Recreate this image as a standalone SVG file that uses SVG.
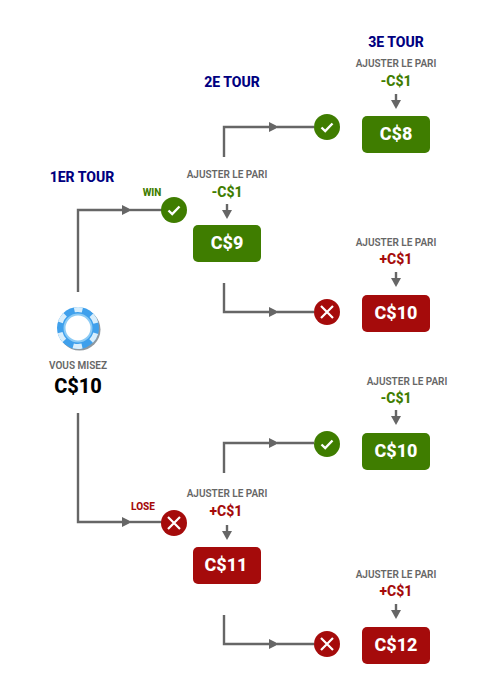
<svg xmlns="http://www.w3.org/2000/svg" width="501" height="700" viewBox="0 0 501 700">
<defs>
<g id="chk"><circle r="13" fill="#3f7d00"/><path d="M-5.500 0.500L-1.800 4L5.500 -3.500" fill="none" stroke="#fff" stroke-width="2.400"/></g>
<g id="crs"><circle r="13" fill="#a50b0b"/><path d="M-6 -6L6 6M6 -6L-6 6" fill="none" stroke="#fff" stroke-width="2.200"/></g>
</defs>
<style>
text{font-family:Roboto,"Liberation Sans",sans-serif;text-anchor:middle}
.t{font-size:14px;font-weight:800;fill:#000080}
.a{font-size:10px;font-weight:600;fill:#666}
.d{font-size:14px;font-weight:800}
.g{fill:#3f7d00}.r{fill:#a50b0b}
.v{font-size:18px;font-weight:800;fill:#fff}
.l{font-size:10px;font-weight:800}
.c{fill:none;stroke:#666;stroke-width:2.400}
.ar{fill:#666}
</style>
<rect width="501" height="700" fill="#fff"/>
<g id="connectors">
<path class="c" d="M78 292V210H122"/><path class="ar" d="M122 205L132 210L122 215Z"/><path class="c" d="M130 210H162"/>
<path class="c" d="M78 413V522H122"/><path class="ar" d="M122 517L132 522L122 527Z"/><path class="c" d="M130 522H162"/>
<path class="c" d="M224 157V127H269"/><path class="ar" d="M269 122L279 127L269 132Z"/><path class="c" d="M277 127H314"/>
<path class="c" d="M224 283V312H269"/><path class="ar" d="M269 307L279 312L269 317Z"/><path class="c" d="M277 312H314"/>
<path class="c" d="M224 473V443H269"/><path class="ar" d="M269 438L279 443L269 448Z"/><path class="c" d="M277 443H314"/>
<path class="c" d="M224 615V644H269"/><path class="ar" d="M269 639L279 644L269 649Z"/><path class="c" d="M277 644H314"/>
<path class="c" d="M227 204V211"/><path class="ar" d="M222 210H232L227 219Z"/>
<path class="c" d="M227 525V532"/><path class="ar" d="M222 531H232L227 540Z"/>
<path class="c" d="M396 94V101"/><path class="ar" d="M391 100H401L396 109Z"/>
<path class="c" d="M396 272V279"/><path class="ar" d="M391 278H401L396 287Z"/>
<path class="c" d="M396 410V417"/><path class="ar" d="M391 416H401L396 425Z"/>
<path class="c" d="M396 604V611"/><path class="ar" d="M391 610H401L396 619Z"/>
</g>
<text class="t" x="82" y="182">1ER TOUR</text>
<text class="t" x="232" y="87">2E TOUR</text>
<text class="t" x="396" y="47">3E TOUR</text>
<g id="start">
<circle cx="79.500" cy="329.500" r="21" fill="#8f989f"/>
<circle cx="78" cy="328" r="21" fill="#3fa0ec"/>
<circle cx="78" cy="328" r="18.500" fill="none" stroke="#d8eefc" stroke-width="5" stroke-dasharray="9 10.370" stroke-dashoffset="4.500" transform="rotate(-90 78 328)"/>
<circle cx="78" cy="328" r="13.500" fill="#fff" stroke="#8ccbf5" stroke-width="2"/>
<text class="a" x="78" y="369">VOUS MISEZ</text>
<text x="78" y="393" font-size="20" font-weight="800" fill="#000">C$10</text>
</g>
<g id="win"><text class="l g" x="152" y="196">WIN</text><use href="#chk" x="174" y="210"/></g>
<g id="lose"><text class="l r" x="143" y="510">LOSE</text><use href="#crs" x="174" y="523"/></g>
<g id="n9"><text class="a" x="227" y="178">AJUSTER LE PARI</text><text class="d g" x="227" y="197">-C$1</text><rect x="193" y="225" width="68" height="37" rx="5" class="g"/><text class="v" x="227" y="249">C$9</text></g>
<g id="n11"><text class="a" x="227" y="497">AJUSTER LE PARI</text><text class="d r" x="226" y="516">+C$1</text><rect x="193" y="547" width="68" height="37" rx="5" class="r"/><text class="v" x="226" y="571">C$11</text></g>
<g id="c1"><use href="#chk" x="327" y="127"/></g>
<g id="c2"><use href="#crs" x="327" y="312"/></g>
<g id="c3"><use href="#chk" x="327" y="444"/></g>
<g id="c4"><use href="#crs" x="327" y="644"/></g>
<g id="n8"><text class="a" x="396" y="67">AJUSTER LE PARI</text><text class="d g" x="396" y="86">-C$1</text><rect x="362" y="116" width="68" height="37" rx="5" class="g"/><text class="v" x="396" y="140">C$8</text></g>
<g id="n10a"><text class="a" x="396" y="246">AJUSTER LE PARI</text><text class="d r" x="396" y="264">+C$1</text><rect x="362" y="295" width="68" height="37" rx="5" class="r"/><text class="v" x="396" y="319">C$10</text></g>
<g id="n10b"><text class="a" x="407" y="385">AJUSTER LE PARI</text><text class="d g" x="396" y="403">-C$1</text><rect x="362" y="433" width="68" height="37" rx="5" class="g"/><text class="v" x="396" y="457">C$10</text></g>
<g id="n12"><text class="a" x="396" y="578">AJUSTER LE PARI</text><text class="d r" x="396" y="596">+C$1</text><rect x="362" y="627" width="68" height="37" rx="5" class="r"/><text class="v" x="396" y="651">C$12</text></g>
</svg>
